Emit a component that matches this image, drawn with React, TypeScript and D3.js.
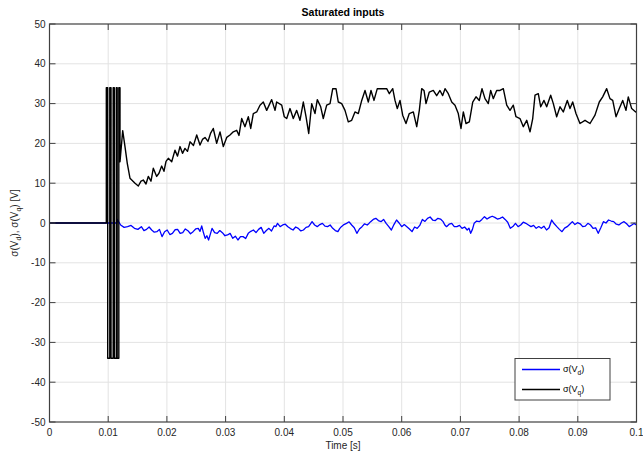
import React from 'react';
import * as d3 from 'd3';

// time axis ticks and labels
const xTicks = [0, 0.01, 0.02, 0.03, 0.04, 0.05, 0.06, 0.07, 0.08, 0.09, 0.1];
const xTickLabels = ['0', '0.01', '0.02', '0.03', '0.04', '0.05', '0.06', '0.07', '0.08', '0.09', '0.1'];
const yTicks = [-50, -40, -30, -20, -10, 0, 10, 20, 30, 40, 50];

// sigma(Vq): saturated burst, then noisy settle
const blackTime = [
  0, 0.00968, 0.00968, 0.00991, 0.00991, 0.01027, 0.01027, 0.01048, 0.01048, 0.01085, 0.01085,
  0.01104, 0.01104, 0.01138, 0.01138, 0.01153, 0.01153, 0.01181, 0.01181, 0.01201, 0.01201,
  0.01247, 0.01286, 0.01325, 0.01371, 0.01457, 0.01513, 0.01559, 0.01598, 0.01644, 0.01683,
  0.01729, 0.01768, 0.01826, 0.01865, 0.01911, 0.0195, 0.01985, 0.02024, 0.02082, 0.02138,
  0.02181, 0.02223, 0.02266, 0.02308, 0.02351, 0.02394, 0.02453, 0.02508, 0.02564, 0.02606,
  0.02649, 0.027, 0.02743, 0.0279, 0.02848, 0.02905, 0.02961, 0.03019, 0.03075, 0.03131,
  0.03189, 0.03228, 0.03274, 0.0333, 0.03387, 0.03428, 0.03472, 0.0353, 0.03586, 0.03642,
  0.037, 0.03785, 0.03842, 0.0387, 0.03956, 0.04, 0.04041, 0.04097, 0.04153, 0.04211,
  0.04267, 0.04324, 0.0437, 0.04416, 0.04467, 0.04523, 0.04562, 0.0462, 0.04664, 0.04722,
  0.04779, 0.04825, 0.04881, 0.0492, 0.04978, 0.05034, 0.0509, 0.05148, 0.05204, 0.05261,
  0.05319, 0.05375, 0.05431, 0.05477, 0.05528, 0.05584, 0.05687, 0.05744, 0.05789, 0.05847,
  0.05886, 0.05925, 0.05971, 0.06017, 0.06073, 0.06129, 0.06198, 0.06256, 0.063, 0.06341,
  0.0638, 0.06414, 0.0647, 0.06538, 0.06596, 0.06652, 0.06698, 0.06738, 0.06794, 0.06852,
  0.06908, 0.06964, 0.0701, 0.0705, 0.07095, 0.07152, 0.0721, 0.07266, 0.07322, 0.07368,
  0.07419, 0.07475, 0.07516, 0.0756, 0.07618, 0.07675, 0.07731, 0.07789, 0.07845, 0.07901,
  0.07947, 0.08015, 0.08072, 0.0813, 0.08186, 0.08232, 0.08271, 0.08327, 0.08368, 0.08424,
  0.0847, 0.08538, 0.08583, 0.0864, 0.08697, 0.08753, 0.08821, 0.08867, 0.08913, 0.08969,
  0.09037, 0.09123, 0.09208, 0.09293, 0.09366, 0.09424, 0.09492, 0.09548, 0.09595, 0.09651,
  0.09707, 0.09765, 0.09821, 0.0986, 0.09918, 0.09986, 0.1,
];
const blackVolt = [
  0, 0, 34, 34, -34, -34, 34, 34, -34, -34, 34,
  34, -34, -34, 34, 34, -34, -34, 34, 34, 15.4,
  23.2, 19.2, 15, 11.25, 10, 9.3, 10.5, 10.8, 9.8, 11.7,
  10.5, 13.75, 11.7, 12.5, 14.3, 13, 15.5, 16.25, 15.4, 18.3,
  16.8, 19.2, 17.5, 18.75, 18, 20.4, 19.5, 22.1, 19.6, 21,
  21.5, 20.5, 22.5, 23.75, 20, 22.9, 19.2, 21.5, 22.1, 22.9,
  23.3, 22, 26.25, 24.2, 26.7, 23.75, 27.5, 27.9, 29.6, 30.4,
  28.3, 31, 28.3, 30.4, 29.6, 26.7, 26.25, 28.75, 26.25, 28.3,
  25.8, 30.4, 26.7, 22.5, 30, 27.5, 31, 29.2, 26.25, 29.6,
  30, 33.75, 33.75, 30.4, 30, 28.3, 25.4, 25.8, 27.9, 27.5,
  30.8, 33.3, 30.4, 33.3, 30.8, 33.75, 33.75, 33.75, 32.5, 33.75,
  30.8, 28.75, 30.8, 27.1, 25, 27.5, 27.9, 24.2, 28.3, 33.75,
  33.3, 30, 32.9, 33.3, 32, 33.3, 32, 33.75, 32.5, 30.4,
  29.6, 27.5, 23.75, 27.9, 25, 25.4, 30.4, 31.7, 30.8, 33.75,
  31.25, 30, 33.3, 31.25, 33.3, 33.3, 33.75, 29.6, 28.3, 29.6,
  26.7, 26.25, 24.2, 25.8, 22.9, 26.25, 32.1, 32.5, 29.2, 30.8,
  29.2, 32.1, 30, 26.7, 29.2, 27.9, 30.8, 28.75, 30.4, 27.5,
  25, 25.8, 25, 27.1, 30.4, 31.7, 33.75, 31.25, 30.8, 26.7,
  28.75, 30.8, 28.3, 31.7, 28.75, 27.9, 28,
];

// sigma(Vd): small noise around zero
const blueTime = [
  0, 0.0115, 0.01154, 0.01212, 0.01271, 0.0133, 0.01389, 0.01447, 0.01506, 0.01565,
  0.01609, 0.01653, 0.01697, 0.01741, 0.01785, 0.01829, 0.01873, 0.01917, 0.01961, 0.02005,
  0.0205, 0.02094, 0.02138, 0.02182, 0.02226, 0.0227, 0.02314, 0.02358, 0.02402, 0.02446,
  0.0249, 0.02534, 0.02564, 0.02593, 0.02622, 0.02652, 0.02681, 0.0271, 0.0274, 0.02769,
  0.02813, 0.02857, 0.02901, 0.02945, 0.02989, 0.03033, 0.03077, 0.03121, 0.03166, 0.0321,
  0.03254, 0.03298, 0.03342, 0.03386, 0.0343, 0.03474, 0.03518, 0.03562, 0.03606, 0.0365,
  0.03694, 0.03738, 0.03782, 0.03826, 0.03856, 0.03885, 0.03929, 0.03973, 0.04017, 0.04061,
  0.04105, 0.04149, 0.04194, 0.04238, 0.04282, 0.04326, 0.0437, 0.04414, 0.04444, 0.04473,
  0.04517, 0.04561, 0.04605, 0.04649, 0.04693, 0.04737, 0.04781, 0.04825, 0.04869, 0.04913,
  0.04943, 0.04972, 0.05016, 0.0506, 0.05104, 0.05148, 0.05192, 0.05236, 0.0528, 0.05324,
  0.05368, 0.05412, 0.05442, 0.05471, 0.05515, 0.05559, 0.05603, 0.05647, 0.05691, 0.05735,
  0.0578, 0.05824, 0.05868, 0.05912, 0.05956, 0.06, 0.06044, 0.06088, 0.06132, 0.06176,
  0.0622, 0.06264, 0.06308, 0.06352, 0.06396, 0.0644, 0.06484, 0.06528, 0.06573, 0.06617,
  0.06661, 0.06705, 0.06735, 0.06764, 0.06808, 0.06852, 0.06896, 0.0694, 0.06984, 0.07028,
  0.07072, 0.07116, 0.07146, 0.07175, 0.07205, 0.07234, 0.07278, 0.07322, 0.07366, 0.0741,
  0.07454, 0.07498, 0.07542, 0.07586, 0.0763, 0.07674, 0.07718, 0.07762, 0.07806, 0.0785,
  0.07894, 0.07938, 0.07983, 0.08027, 0.08071, 0.08115, 0.08159, 0.08203, 0.08247, 0.08291,
  0.08335, 0.08379, 0.08423, 0.08467, 0.08511, 0.08555, 0.08599, 0.08643, 0.08687, 0.08731,
  0.08775, 0.08819, 0.08863, 0.08907, 0.08951, 0.08995, 0.0904, 0.09084, 0.09128, 0.09172,
  0.09216, 0.0926, 0.09304, 0.09348, 0.09392, 0.09436, 0.0948, 0.09524, 0.09568, 0.09612,
  0.09656, 0.097, 0.09744, 0.09788, 0.09832, 0.09876, 0.0992, 0.09964, 0.09982, 0.1,
];
const blueVolt = [
  0, 0, 0.9, -0.5, -1.1, -0.92, -0.6, -1.34, -1.6, -0.92,
  -1.9, -1.6, -1.0, -1.76, -2.3, -2.18, -1.6, -3.43, -2.2, -1.76,
  -2.9, -2.6, -1.7, -1.6, -2.6, -2.43, -1.5, -1.93, -2.7, -2.18,
  -1.5, -1.34, -2.1, -0.75, -2.4, -3.85, -3.2, -4.27, -2.8, -1.34,
  -2.4, -2.6, -1.9, -2.43, -3.2, -3.0, -2.6, -3.85, -3.3, -4.27,
  -3.4, -3.43, -3.9, -2.6, -2.1, -1.76, -2.4, -1.6, -1.1, -2.6,
  -1.9, -1.34, -2.0, -0.75, -0.9, -0.08, -0.9, -0.5, -0.3, -0.92,
  -1.4, -1.76, -1.0, -1.34, -2.0, -1.76, -1.1, -0.92, -0.3, 0.34,
  -0.5, -0.92, -0.4, -0.08, -0.8, -0.92, -0.5, -1.34, -1.9, -2.18,
  -1.4, -0.92, -0.4, -0.08, 0.3, -0.5, -1.2, -2.6, -1.5, -0.92,
  -0.2, -0.5, -0.1, 0.34, 0.9, 1.17, 0.6, 0.34, 0.9, -0.08,
  -0.9, -1.76, -0.4, 0.75, 0.0, -0.92, -0.4, -0.92, -1.5, -2.18,
  -1.0, -1.34, -0.6, 0.9, 0.4, 1.17, 1.5, 0.75, 0.6, 1.17,
  1.0, 0.34, -0.5, -0.92, -0.3, -0.08, -0.9, -0.92, -0.6, -1.34,
  -1.0, -1.76, -1.3, -2.6, -1.6, -0.08, 0.5, 0.34, 0.9, 1.59,
  1.0, 1.42, 1.7, 1.42, 1.0, 1.17, 1.5, 0.9, 0.2, -1.34,
  -0.9, -0.08, -0.9, -0.5, 0.2, -0.08, -0.5, -0.92, -0.6, -1.34,
  -0.9, -1.34, -0.8, -1.76, -1.2, 0.75, -0.2, -0.92, -1.6, -2.18,
  -1.3, -0.92, -0.3, 0.34, -0.4, 0.08, -0.2, -0.92, -0.8, -0.08,
  -0.5, -1.34, -1.2, -2.6, -1.2, 0.34, 0.0, 0.75, 0.5, 0.34,
  -0.3, -0.5, 0.0, 0.34, -0.2, -0.92, -0.5, -0.08, -0.4, -0.2,
];

const W = 643;
const H = 453;
const M = {left: 49.5, right: 636.5, top: 24, bottom: 422};
const FONT = 'Liberation Sans, Arial, Helvetica, sans-serif';

export default function App() {
  const x = d3.scaleLinear().domain([0, 0.1]).range([M.left, M.right]);
  const y = d3.scaleLinear().domain([-50, 50]).range([M.bottom, M.top]);

  const line = d3.line<[number, number]>()
    .defined(d => d[1] !== undefined)
    .x(d => x(d[0]))
    .y(d => y(d[1]));

  const black = blackTime.map((t, i) => [t, blackVolt[i]] as [number, number]);
  const blue = blueTime.map((t, i) => [t, blueVolt[i]] as [number, number]);

  const axisColor = '#404040';
  const tickLen = 6;

  return (
    <svg width={W} height={H} style={{position: 'absolute', left: 0, top: 0, background: '#fff'}}
         fontFamily={FONT}>
      <rect x={0} y={0} width={W} height={H} fill="#fff"/>

      {/* grid */}
      <g stroke="#e3e3e3" strokeWidth={1}>
        {xTicks.slice(1, -1).map(t => (
          <line key={'gx' + t} x1={x(t)} x2={x(t)} y1={M.top} y2={M.bottom}/>
        ))}
        {yTicks.slice(1, -1).map(v => (
          <line key={'gy' + v} x1={M.left} x2={M.right} y1={y(v)} y2={y(v)}/>
        ))}
      </g>

      {/* data */}
      <path d={line(blue) ?? ''} fill="none" stroke="#0000ff" strokeWidth={1.3} strokeLinejoin="round"/>
      <path d={line(black) ?? ''} fill="none" stroke="#000" strokeWidth={1.4} strokeLinejoin="round"/>

      {/* box and ticks */}
      <rect x={M.left} y={M.top} width={M.right - M.left} height={M.bottom - M.top}
            fill="none" stroke={axisColor} strokeWidth={1.2}/>
      <g stroke={axisColor} strokeWidth={1}>
        {xTicks.map(t => (
          <g key={'tx' + t}>
            <line x1={x(t)} x2={x(t)} y1={M.bottom} y2={M.bottom - tickLen}/>
            <line x1={x(t)} x2={x(t)} y1={M.top} y2={M.top + tickLen}/>
          </g>
        ))}
        {yTicks.map(v => (
          <g key={'ty' + v}>
            <line x1={M.left} x2={M.left + tickLen} y1={y(v)} y2={y(v)}/>
            <line x1={M.right} x2={M.right - tickLen} y1={y(v)} y2={y(v)}/>
          </g>
        ))}
      </g>

      {/* tick labels */}
      <g fontSize={10} fill="#262626">
        {xTicks.map((t, i) => (
          <text key={'lx' + t} x={x(t)} y={M.bottom + 14} textAnchor="middle">{xTickLabels[i]}</text>
        ))}
        {yTicks.map(v => (
          <text key={'ly' + v} x={M.left - 4} y={y(v) + 3.5} textAnchor="end">{v}</text>
        ))}
      </g>

      {/* titles */}
      <text x={(M.left + M.right) / 2} y={16} textAnchor="middle" fontSize={10.5} fontWeight="bold"
            fill="#000">Saturated inputs</text>
      <text x={(M.left + M.right) / 2} y={449} textAnchor="middle" fontSize={10} fill="#262626">Time [s]</text>
      <text transform={`translate(18, ${(M.top + M.bottom) / 2}) rotate(-90)`} textAnchor="middle"
            fontSize={10} fill="#262626">
        σ(V<tspan fontSize={7} dy={3}>d</tspan><tspan dy={-3}>), σ(V</tspan>
        <tspan fontSize={7} dy={3}>q</tspan><tspan dy={-3}>) [V]</tspan>
      </text>

      {/* legend */}
      <g>
        <rect x={515} y={358.5} width={95} height={41.5} fill="#fff" stroke={axisColor} strokeWidth={1}/>
        <line x1={522} x2={560} y1={369.5} y2={369.5} stroke="#0000ff" strokeWidth={1.3}/>
        <line x1={522} x2={560} y1={389.5} y2={389.5} stroke="#000" strokeWidth={1.3}/>
        <text x={563} y={372} fontSize={9} fill="#000">
          σ(V<tspan fontSize={6.5} dy={2.5}>d</tspan><tspan dy={-2.5}>)</tspan>
        </text>
        <text x={563} y={392} fontSize={9} fill="#000">
          σ(V<tspan fontSize={6.5} dy={2.5}>q</tspan><tspan dy={-2.5}>)</tspan>
        </text>
      </g>
    </svg>
  );
}
